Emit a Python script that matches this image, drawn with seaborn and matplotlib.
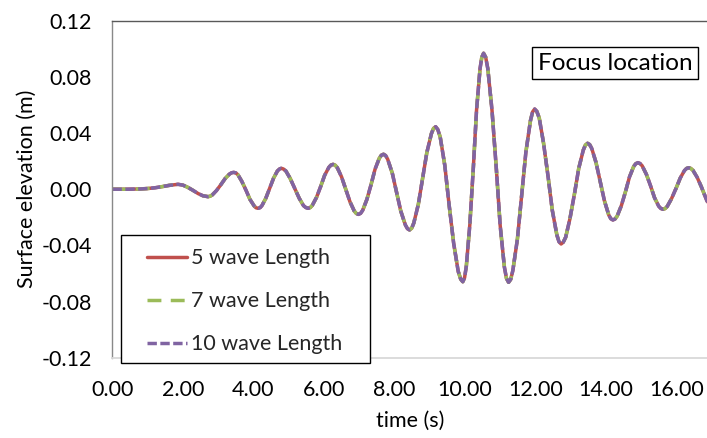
import matplotlib
matplotlib.use("Agg")
import matplotlib.pyplot as plt
from matplotlib.patches import Rectangle
from matplotlib.ticker import FormatStrFormatter
import seaborn as sns


# ---------------- DATA ----------------
time_s = [
    0.00, 0.40, 0.80, 1.00, 1.20, 1.40, 1.60, 1.86,
    2.00, 2.14, 2.29, 2.43, 2.57, 2.71,
    2.77, 2.83, 2.95, 3.08, 3.20, 3.32, 3.38, 3.44,
    3.50, 3.56, 3.67, 3.79, 3.90, 4.02, 4.07, 4.13,
    4.19, 4.24, 4.35, 4.46, 4.57, 4.68, 4.74, 4.79,
    4.85, 4.92, 5.04, 5.17, 5.30, 5.42, 5.49, 5.55,
    5.61, 5.67, 5.79, 5.91, 6.02, 6.14, 6.20, 6.26,
    6.32, 6.38, 6.50, 6.62, 6.74, 6.86, 6.92, 6.98,
    7.04, 7.10, 7.22, 7.34, 7.45, 7.57, 7.63, 7.69,
    7.75, 7.81, 7.94, 8.06, 8.18, 8.31, 8.37, 8.43,
    8.49, 8.55, 8.68, 8.80, 8.92, 9.05, 9.11, 9.17,
    9.23, 9.30, 9.43, 9.55, 9.68, 9.81, 9.88, 9.94,
    9.99, 10.04, 10.14, 10.24, 10.33, 10.43, 10.48, 10.53,
    10.59, 10.65, 10.77, 10.89, 11.00, 11.12, 11.18, 11.24,
    11.30, 11.36, 11.49, 11.61, 11.73, 11.86, 11.92, 11.98,
    12.04, 12.11, 12.23, 12.36, 12.48, 12.61, 12.67, 12.73,
    12.79, 12.86, 12.98, 13.11, 13.23, 13.36, 13.42, 13.48,
    13.54, 13.60, 13.72, 13.84, 13.96, 14.08, 14.14, 14.20,
    14.26, 14.32, 14.44, 14.56, 14.67, 14.79, 14.85, 14.91,
    14.97, 15.03, 15.15, 15.27, 15.38, 15.50, 15.56, 15.62,
    15.68, 15.74, 15.86, 15.99, 16.11, 16.23, 16.29, 16.35,
    16.41, 16.47, 16.59, 16.71, 16.80, 16.87, 16.95,
]

eta_5wl = [
    0.0000, 0.0000, 0.0002, 0.0005, 0.0010, 0.0018, 0.0027, 0.0035,
    0.0029, 0.0013, -0.0009, -0.0031, -0.0047, -0.0053,
    -0.0050, -0.0041, -0.0010, 0.0034, 0.0077, 0.0108, 0.0117, 0.0120,
    0.0116, 0.0103, 0.0056, -0.0008, -0.0072, -0.0119, -0.0132, -0.0136,
    -0.0131, -0.0117, -0.0065, 0.0007, 0.0078, 0.0130, 0.0144, 0.0149,
    0.0144, 0.0130, 0.0078, 0.0007, -0.0065, -0.0117, -0.0131, -0.0136,
    -0.0131, -0.0115, -0.0058, 0.0021, 0.0099, 0.0156, 0.0172, 0.0177,
    0.0171, 0.0153, 0.0088, -0.0001, -0.0090, -0.0155, -0.0173, -0.0179,
    -0.0172, -0.0150, -0.0072, 0.0035, 0.0142, 0.0220, 0.0242, 0.0249,
    0.0240, 0.0213, 0.0114, -0.0021, -0.0155, -0.0254, -0.0281, -0.0290,
    -0.0278, -0.0241, -0.0106, 0.0078, 0.0261, 0.0396, 0.0433, 0.0445,
    0.0426, 0.0371, 0.0169, -0.0107, -0.0383, -0.0585, -0.0640, -0.0659,
    -0.0631, -0.0550, -0.0252, 0.0155, 0.0561, 0.0859, 0.0940, 0.0968,
    0.0940, 0.0859, 0.0560, 0.0153, -0.0255, -0.0554, -0.0635, -0.0663,
    -0.0642, -0.0580, -0.0355, -0.0046, 0.0263, 0.0488, 0.0550, 0.0571,
    0.0555, 0.0507, 0.0331, 0.0091, -0.0150, -0.0326, -0.0374, -0.0390,
    -0.0378, -0.0342, -0.0211, -0.0032, 0.0148, 0.0279, 0.0315, 0.0327,
    0.0318, 0.0290, 0.0191, 0.0054, -0.0083, -0.0182, -0.0210, -0.0219,
    -0.0212, -0.0192, -0.0117, -0.0015, 0.0087, 0.0162, 0.0182, 0.0189,
    0.0183, 0.0167, 0.0106, 0.0023, -0.0060, -0.0121, -0.0137, -0.0143,
    -0.0138, -0.0123, -0.0069, 0.0005, 0.0079, 0.0133, 0.0148, 0.0153,
    0.0148, 0.0135, 0.0085, 0.0017, -0.0040, -0.0084, -0.0110,
]

# the three runs overlap exactly in the reference
eta_7wl = list(eta_5wl)
eta_10wl = list(eta_5wl)

series_names = ["5 wave Length", "7 wave Length", "10 wave Length"]
x_ticks = [0, 2, 4, 6, 8, 10, 12, 14, 16]
y_ticks = [-0.12, -0.08, -0.04, 0.00, 0.04, 0.08, 0.12]


# ---------------- STYLE ----------------
sns.set_theme(style="white")
plt.rcParams["font.family"] = ["Lato", "DejaVu Sans"]
plt.rcParams["axes.unicode_minus"] = False

FS = 15.5

fig = plt.figure(figsize=(7.07, 4.38), dpi=100)
ax = fig.add_axes([0.1591, 0.1833, 0.8409, 0.7694])

line_styles = [
    ("#C0504D", "-"),
    ("#9BBB59", (0, (4, 2.7))),
    ("#8064A2", (0, (2.7, 1))),
]

# ---------------- PLOT ----------------
for name, eta, (col, ls) in zip(series_names, [eta_5wl, eta_7wl, eta_10wl], line_styles):
    sns.lineplot(x=time_s, y=eta, ax=ax, color=col, linestyle=ls, lw=2.5,
                 label=name, estimator=None, sort=False)

ax.set_xlim(0, 16.87)
ax.set_ylim(-0.12, 0.12)
ax.set_xticks(x_ticks)
ax.set_yticks(y_ticks)
ax.xaxis.set_major_formatter(FormatStrFormatter("%.2f"))
ax.yaxis.set_major_formatter(FormatStrFormatter("%.2f"))
ax.tick_params(axis="both", length=0, labelsize=FS, labelcolor="black")
ax.tick_params(axis="y", pad=15)
ax.tick_params(axis="x", pad=16)

ax.spines["right"].set_visible(False)
ax.spines["top"].set_color("#595959")
ax.spines["left"].set_color("#898989")
ax.spines["bottom"].set_color("#D9D9D9")
for s in ["top", "left", "bottom"]:
    ax.spines[s].set_linewidth(1.0)
ax.spines["bottom"].set_linewidth(1.3)

ax.set_xlabel("time (s)", fontsize=FS, color="black")
ax.set_ylabel("Surface elevation (m)", fontsize=FS, color="black")
ax.xaxis.set_label_coords(0.5, -0.158)
ax.yaxis.set_label_coords(-0.127, 0.5)

# legend box (sticks out below the plot area like the original)
ax.add_patch(Rectangle((0.1707, 0.1719), 0.3526, 0.2916, transform=fig.transFigure,
                       facecolor="white", edgecolor="black", lw=1.0,
                       clip_on=False, zorder=4))
handles, labels = ax.get_legend_handles_labels()
leg = ax.legend(handles, labels, loc="upper left", bbox_to_anchor=(0.2075, 0.4329),
                bbox_transform=fig.transFigure, frameon=False, borderpad=0,
                borderaxespad=0, handlelength=1.86, handletextpad=0.22,
                labelspacing=1.07, fontsize=FS)
leg.set_zorder(5)

ax.text(0.8697, 0.8555, "Focus location", transform=fig.transFigure,
        ha="center", va="center", fontsize=17.5, color="black",
        bbox=dict(boxstyle="square,pad=0.22", facecolor="white",
                  edgecolor="black", lw=1.0))

fig.savefig("out.png", dpi=100)
